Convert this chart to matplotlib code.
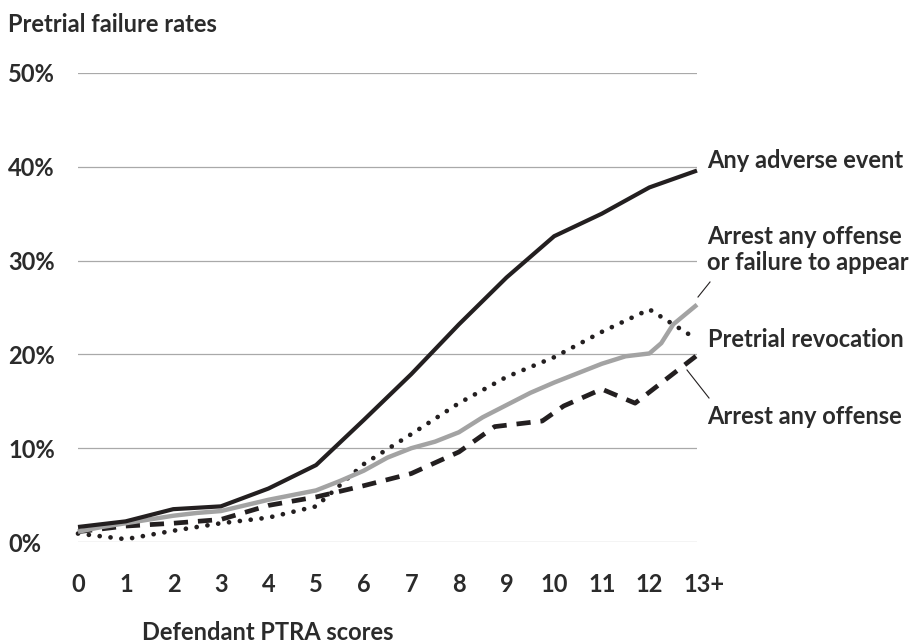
import matplotlib
matplotlib.use("Agg")
import matplotlib.pyplot as plt

# ---- data ----
scores = list(range(14))
tick_labels = ["0", "1", "2", "3", "4", "5", "6", "7", "8", "9", "10", "11", "12", "13+"]

any_adverse = [1.6, 2.2, 3.5, 3.8, 5.7, 8.2, 13.0, 17.9, 23.2, 28.2, 32.6, 35.0, 37.8, 39.6]

pretrial_revocation = [0.9, 0.3, 1.2, 2.0, 2.6, 3.8, 8.3, 11.5, 14.8, 17.6, 19.7, 22.4, 24.8, 21.6]

arrest_fta_x = [0, 0.5, 1, 1.5, 2, 2.5, 3, 3.5, 4, 4.5, 5, 5.5, 6, 6.5, 7, 7.5, 8, 8.5,
                9, 9.5, 10, 10.5, 11, 11.5, 12, 12.25, 12.5, 13]
arrest_fta = [1.1, 1.6, 2.0, 2.4, 2.8, 3.1, 3.3, 3.9, 4.5, 5.0, 5.5, 6.5, 7.6, 9.0, 10.0, 10.7,
              11.7, 13.3, 14.6, 15.9, 17.0, 18.0, 19.0, 19.8, 20.1, 21.2, 23.2, 25.3]

arrest_x = [0, 1, 2, 3, 4, 5, 6, 7, 8, 8.75, 9.75, 10.2, 11.0, 11.7, 13]
arrest = [1.1, 1.7, 2.0, 2.4, 3.9, 4.8, 6.0, 7.3, 9.6, 12.3, 12.9, 14.5, 16.3, 14.8, 19.9]

y_ticks = [0, 10, 20, 30, 40, 50]
y_tick_labels = ["0%", "10%", "20%", "30%", "40%", "50%"]

title = "Pretrial failure rates"
x_title = "Defendant PTRA scores"

# ---- style ----
FONT = "Lato"
TXT = "#2b2b2b"
BLACK = "#231f20"
GRAY = "#a3a3a3"

W, H = 913, 643
fig = plt.figure(figsize=(W / 100, H / 100), dpi=100)
ax = fig.add_axes([78 / W, (H - 542) / H, (697 - 78) / W, (542 - 73) / H])
ax.set_xlim(0, 13)
ax.set_ylim(0, 50)
ax.axis("off")

for yv in y_ticks:
    ax.axhline(yv, color="#a9a9a9", lw=0.9, zorder=1)

ax.plot(scores, any_adverse, color=BLACK, lw=3.0, solid_capstyle="butt", clip_on=False, zorder=5)
ax.plot(arrest_fta_x, arrest_fta, color=GRAY, lw=3.2, solid_capstyle="butt", clip_on=False, zorder=4)
ax.plot(scores, pretrial_revocation, color=BLACK, lw=3.4, linestyle=(0, (0.01, 2.3)),
        dash_capstyle="round", clip_on=False, zorder=3)
ax.plot(arrest_x, arrest, color=BLACK, lw=3.4, linestyle=(0, (3.0, 2.1)),
        dash_capstyle="butt", clip_on=False, zorder=3)

def fx(px):
    return px / W

def fy(py):
    return 1 - py / H

fs = 17
kw = dict(fontsize=fs, family=FONT, weight="bold", color=TXT)
# title
fig.text(fx(8), fy(25), title, ha="left", va="center", **kw)
# y labels
for yv, lab in zip(y_ticks, y_tick_labels):
    ypx = 542 - (542 - 73) * yv / 50 + 2
    fig.text(fx(8), fy(ypx), lab, ha="left", va="center", **kw)
# x tick labels
for k, lab in zip(scores, tick_labels):
    xpx = 78.3 + 47.6 * k
    if lab == "13+":
        xpx += 7
    fig.text(fx(xpx), fy(584), lab, ha="center", va="center", **kw)
# x title
fig.text(fx(268), fy(632), x_title, ha="center", va="center", **kw)

# series labels
fig.text(fx(707), fy(161), "Any adverse event", ha="left", va="center", **kw)
fig.text(fx(707), fy(236), "Arrest any offense", ha="left", va="center", **kw)
fig.text(fx(707), fy(262), "or failure to appear", ha="left", va="center", **kw)
fig.text(fx(708), fy(340), "Pretrial revocation", ha="left", va="center", **kw)
fig.text(fx(707), fy(416), "Arrest any offense", ha="left", va="center", **kw)

# leader lines
fig.add_artist(plt.Line2D([fx(698), fx(710)], [fy(297), fy(282)], color=BLACK, lw=0.8))
fig.add_artist(plt.Line2D([fx(687), fx(709)], [fy(370), fy(398)], color=BLACK, lw=0.8))

fig.savefig("out.png", dpi=100, facecolor="white")
